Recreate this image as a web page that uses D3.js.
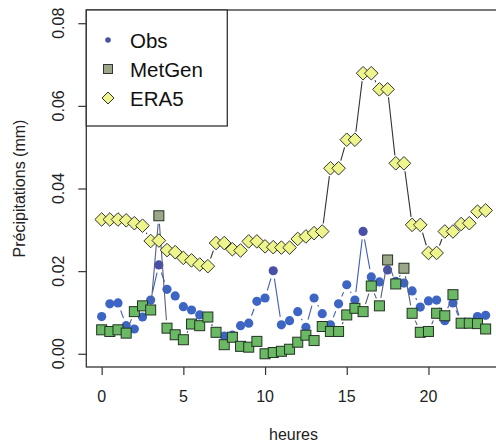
<!DOCTYPE html>
<html>
<head>
<meta charset="utf-8">
<script src="https://cdn.jsdelivr.net/npm/d3@7"></script>
<style>
  body { margin: 0; background: #fff; }
  svg { display: block; font-family: "Liberation Sans", Arial, sans-serif; }
</style>
</head>
<body>
<div id="chart"></div>
<script>
const hours = d3.range(0, 24, 0.5);

const obs = [0.0090, 0.0121, 0.0123, 0.0068, 0.0060, 0.0089, 0.0130, 0.0215,
  0.0156, 0.0140, 0.0114, 0.0106, 0.0094, 0.0087, 0.0050, 0.0043,
  0.0045, 0.0068, 0.0074, 0.0127, 0.0135, 0.0201, 0.0070, 0.0080,
  0.0102, 0.0064, 0.0135, 0.0097, 0.0070, 0.0121, 0.0167, 0.0130,
  0.0296, 0.0186, 0.0174, 0.0203, 0.0175, 0.0171, 0.0152, 0.0113,
  0.0128, 0.0130, 0.0080, 0.0123, 0.0075, 0.0076, 0.0090, 0.0093];

const metgen = [0.0058, 0.0054, 0.0058, 0.0050, 0.0102, 0.0116, 0.0106, 0.0334,
  0.0062, 0.0046, 0.0034, 0.0072, 0.0068, 0.0089, 0.0052, 0.0022,
  0.0040, 0.0018, 0.0016, 0.0030, 0.0000, 0.0003, 0.0006, 0.0011,
  0.0028, 0.0045, 0.0032, 0.0066, 0.0054, 0.0054, 0.0094, 0.0110,
  0.0102, 0.0164, 0.0116, 0.0227, 0.0169, 0.0207, 0.0098, 0.0052,
  0.0054, 0.0098, 0.0092, 0.0143, 0.0074, 0.0074, 0.0073, 0.0060];

const era5 = [0.0325, 0.0325, 0.0325, 0.0323, 0.0316, 0.0310, 0.0273, 0.0274,
  0.0251, 0.0246, 0.0232, 0.0226, 0.0216, 0.0212, 0.0268, 0.0268,
  0.0253, 0.0250, 0.0272, 0.0272, 0.0260, 0.0258, 0.0257, 0.0257,
  0.0278, 0.0284, 0.0292, 0.0296, 0.0449, 0.0449, 0.0518, 0.0518,
  0.0679, 0.0679, 0.0640, 0.0640, 0.0461, 0.0461, 0.0312, 0.0312,
  0.0244, 0.0244, 0.0296, 0.0296, 0.0314, 0.0316, 0.0344, 0.0347];

const xTicks = [0, 5, 10, 15, 20];
const yTicks = [0, 0.02, 0.04, 0.06, 0.08];
const legendLabels = ["Obs", "MetGen", "ERA5"];

const width = 496, height = 446;

const svg = d3.select("#chart").append("svg")
  .attr("width", width)
  .attr("height", height);

// R-style 4% padding around xlim c(0, 23.5) and ylim c(0, 0.08)
const x = d3.scaleLinear().domain([-0.94, 24.44]).range([86.3, 501]);
const y = d3.scaleLinear().domain([-0.0032, 0.0832]).range([367, 10]);

// type = "b": segments with a gap around each point
function drawLinesB(values, color, gap) {
  const pts = hours.map((h, i) => [x(h), y(values[i])]);
  const segs = [];
  for (let i = 0; i < pts.length - 1; i++) {
    const [x1, y1] = pts[i], [x2, y2] = pts[i + 1];
    const len = Math.hypot(x2 - x1, y2 - y1);
    if (len <= 2 * gap) continue;
    const ux = (x2 - x1) / len, uy = (y2 - y1) / len;
    segs.push(`M${x1 + ux * gap},${y1 + uy * gap}L${x2 - ux * gap},${y2 - uy * gap}`);
  }
  svg.append("path")
    .attr("d", segs.join(""))
    .attr("fill", "none")
    .attr("stroke", color)
    .attr("stroke-width", 1.1);
}

// Obs
drawLinesB(obs, "#3d5fb8", 8);
svg.append("g").selectAll("circle")
  .data(obs)
  .join("circle")
  .attr("cx", (d, i) => x(hours[i]))
  .attr("cy", d => y(d))
  .attr("r", 4.6)
  .attr("fill", (d) => d > 0.02 ? "#4a4fa8" : "#3d66c4");

// MetGen
drawLinesB(metgen, "#556080", 8);
svg.append("g").selectAll("rect")
  .data(metgen)
  .join("rect")
  .attr("x", (d, i) => x(hours[i]) - 5)
  .attr("y", d => y(d) - 5)
  .attr("width", 10)
  .attr("height", 10)
  .attr("fill", d => d > 0.02 ? "#9ca68a" : "#6bb865")
  .attr("stroke", "#223322")
  .attr("stroke-width", 1);

// ERA5
drawLinesB(era5, "#333", 8);
svg.append("g").selectAll("path")
  .data(era5)
  .join("path")
  .attr("d", "M0,-6.8L6.8,0L0,6.8L-6.8,0Z")
  .attr("transform", (d, i) => `translate(${x(hours[i])},${y(d)})`)
  .attr("fill", "#eef58c")
  .attr("stroke", "#333")
  .attr("stroke-width", 1);

// Box
svg.append("rect")
  .attr("x", 86.3).attr("y", 10)
  .attr("width", 501 - 86.3).attr("height", 357)
  .attr("fill", "none")
  .attr("stroke", "#333")
  .attr("stroke-width", 1.3);

// Y axis
const yAxis = svg.append("g")
  .attr("transform", "translate(86.3,0)")
  .call(d3.axisLeft(y).tickValues(yTicks).tickSize(8).tickFormat(""));
yAxis.select(".domain").remove();
yAxis.selectAll("line").attr("stroke", "#333").attr("stroke-width", 1.2);
svg.append("g").selectAll("text")
  .data(yTicks)
  .join("text")
  .attr("transform", d => `translate(64,${y(d)}) rotate(-90)`)
  .attr("text-anchor", "middle")
  .attr("font-size", "16px")
  .attr("fill", "#222")
  .text(d3.format(".2f"));

// X axis
const xAxis = svg.append("g")
  .attr("transform", "translate(0,367)")
  .call(d3.axisBottom(x).tickValues(xTicks).tickSize(8).tickFormat(""));
xAxis.select(".domain").remove();
xAxis.selectAll("line").attr("stroke", "#333").attr("stroke-width", 1.2);
svg.append("g").selectAll("text")
  .data(xTicks)
  .join("text")
  .attr("x", d => x(d))
  .attr("y", 402)
  .attr("text-anchor", "middle")
  .attr("font-size", "16px")
  .attr("fill", "#222")
  .text(d => d);

// Axis titles
svg.append("text")
  .attr("x", 293.5).attr("y", 440)
  .attr("text-anchor", "middle")
  .attr("font-size", "16px")
  .attr("fill", "#222")
  .text("heures");
svg.append("text")
  .attr("transform", "translate(25,188.5) rotate(-90)")
  .attr("text-anchor", "middle")
  .attr("font-size", "16px")
  .attr("fill", "#222")
  .text("Précipitations (mm)");

// Legend
const legend = svg.append("g");
legend.append("rect")
  .attr("x", 86.3).attr("y", 10)
  .attr("width", 141).attr("height", 116)
  .attr("fill", "#fff")
  .attr("stroke", "#333")
  .attr("stroke-width", 1.3);
const rowY = [40, 69, 98];
legend.append("circle")
  .attr("cx", 108).attr("cy", rowY[0]).attr("r", 2.8)
  .attr("fill", "#4a4fa8");
legend.append("rect")
  .attr("x", 103.5).attr("y", rowY[1] - 4.5)
  .attr("width", 9).attr("height", 9)
  .attr("fill", "#9ca68a").attr("stroke", "#333");
legend.append("path")
  .attr("d", "M0,-6L6,0L0,6L-6,0Z")
  .attr("transform", `translate(108,${rowY[2]})`)
  .attr("fill", "#eef58c").attr("stroke", "#333");
legend.selectAll("text.lab")
  .data(legendLabels)
  .join("text")
  .attr("class", "lab")
  .attr("x", 130)
  .attr("y", (d, i) => rowY[i] + 7.5)
  .attr("font-size", "20.5px")
  .attr("fill", "#111")
  .text(d => d);
</script>
</body>
</html>
